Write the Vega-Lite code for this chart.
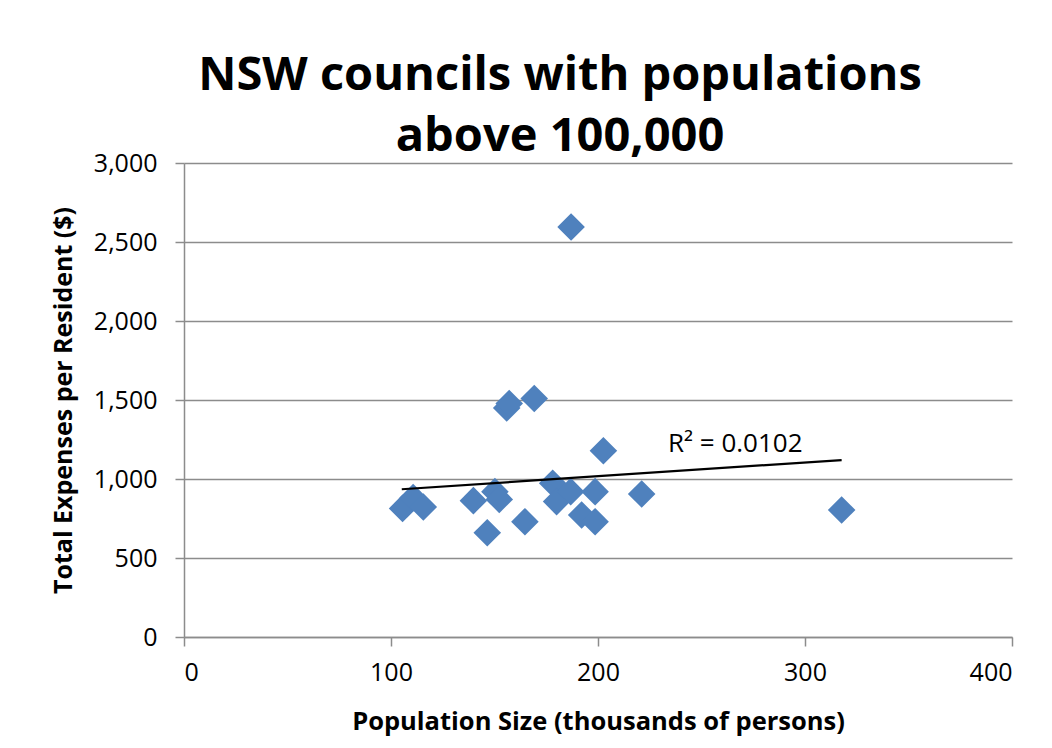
{
  "$schema": "https://vega.github.io/schema/vega-lite/v6.json",
  "autosize": {"type": "none"},
  "padding": {"left": 184, "top": 163, "right": 40, "bottom": 111},
  "width": 828,
  "height": 474,
  "background": "#ffffff",
  "title": {
    "text": ["NSW councils with populations", "above 100,000"],
    "font": "Open Sans",
    "fontSize": 47,
    "fontWeight": "bold",
    "color": "#000000",
    "lineHeight": 61,
    "anchor": "middle",
    "dx": -38,
    "dy": 20,
    "offset": 10
  },
  "datasets": {
    "councils": [
      {"population": 105.6, "expenses": 814},
      {"population": 110.7, "expenses": 882},
      {"population": 115.6, "expenses": 823},
      {"population": 139.8, "expenses": 863},
      {"population": 146.5, "expenses": 660},
      {"population": 150.2, "expenses": 920},
      {"population": 152.3, "expenses": 871},
      {"population": 155.9, "expenses": 1450},
      {"population": 157.1, "expenses": 1478},
      {"population": 164.7, "expenses": 730},
      {"population": 169.2, "expenses": 1510},
      {"population": 178.1, "expenses": 973},
      {"population": 180.0, "expenses": 857},
      {"population": 186.8, "expenses": 920},
      {"population": 187.0, "expenses": 2595},
      {"population": 192.1, "expenses": 772},
      {"population": 198.6, "expenses": 920},
      {"population": 198.6, "expenses": 730},
      {"population": 202.6, "expenses": 1179},
      {"population": 221.1, "expenses": 905},
      {"population": 317.7, "expenses": 804}
    ],
    "trend": [
      {"population": 105.2, "expenses": 935},
      {"population": 317.7, "expenses": 1120}
    ],
    "fit": [
      {"population": 233.8, "expenses": 1171, "label": "R² = 0.0102"}
    ]
  },
  "config": {
    "view": {"stroke": null},
    "axis": {
      "labelFont": "Open Sans",
      "titleFont": "Open Sans",
      "labelColor": "#000000",
      "titleColor": "#000000",
      "domainColor": "#8c8c8c",
      "tickColor": "#8c8c8c",
      "gridColor": "#8c8c8c",
      "domainWidth": 1.5,
      "tickWidth": 1.5,
      "gridWidth": 1.5
    }
  },
  "layer": [
    {
      "data": {"name": "councils"},
      "mark": {"type": "point", "shape": "diamond", "filled": true, "size": 760, "color": "#4F81BD", "opacity": 1},
      "encoding": {
        "x": {
          "field": "population",
          "type": "quantitative",
          "scale": {"domain": [0, 400], "nice": false},
          "axis": {
            "values": [0, 100, 200, 300, 400],
            "format": ",.0f",
            "grid": false,
            "tickSize": 9,
            "labelFontSize": 25,
            "labelPadding": 14,
            "title": "Population  Size (thousands of persons)",
            "titleFontSize": 25.5,
            "titleFontWeight": "bold",
            "titlePadding": 24
          }
        },
        "y": {
          "field": "expenses",
          "type": "quantitative",
          "scale": {"domain": [0, 3000], "nice": false},
          "axis": {
            "values": [0, 500, 1000, 1500, 2000, 2500, 3000],
            "format": ",.0f",
            "grid": true,
            "tickSize": 9,
            "labelFontSize": 25,
            "labelPadding": 18,
            "title": "Total Expenses per Resident ($)",
            "titleFontSize": 25,
            "titleFontWeight": "bold",
            "titlePadding": 17
          }
        }
      }
    },
    {
      "data": {"name": "trend"},
      "mark": {"type": "line", "color": "#000000", "strokeWidth": 2.2},
      "encoding": {
        "x": {"field": "population", "type": "quantitative"},
        "y": {"field": "expenses", "type": "quantitative"}
      }
    },
    {
      "data": {"name": "fit"},
      "mark": {"type": "text", "font": "Open Sans", "fontSize": 26, "color": "#000000", "align": "left", "baseline": "alphabetic"},
      "encoding": {
        "x": {"field": "population", "type": "quantitative"},
        "y": {"field": "expenses", "type": "quantitative"},
        "text": {"field": "label"}
      }
    }
  ]
}
